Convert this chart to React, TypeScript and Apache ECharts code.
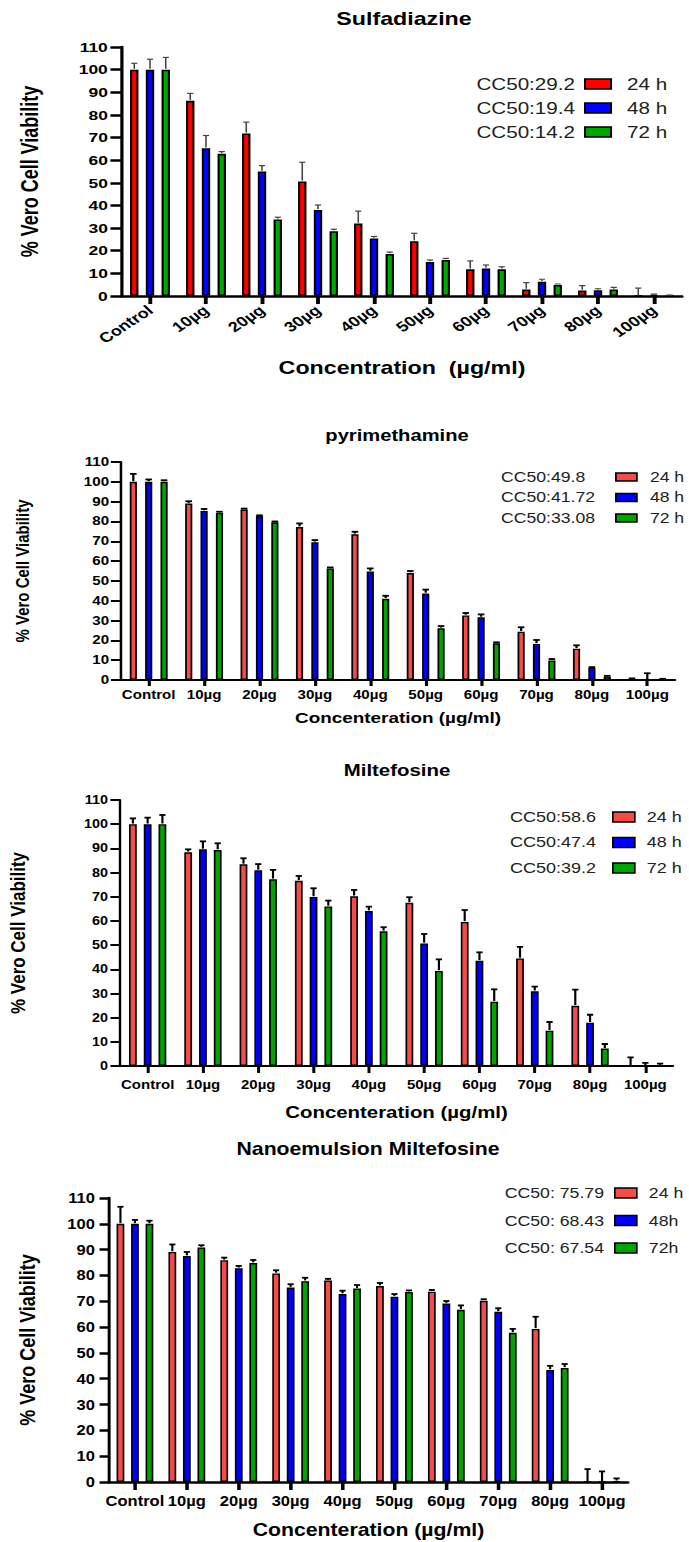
import React, { useEffect, useRef } from "react";
import * as echarts from "echarts";

// ---------- data ----------
const categories = ["Control", "10µg", "20µg", "30µg", "40µg", "50µg", "60µg", "70µg", "80µg", "100µg"];
const timeNames = ["24 h", "48 h", "72 h"];
const timeNamesNano = ["24 h", "48h", "72h"];

// Sulfadiazine
const sulfa24 = [100, 86.2, 71.8, 50.6, 32, 24.2, 11.8, 2.9, 2.4, 0];
const sulfa48 = [100, 65.3, 55, 38, 25.4, 15, 12.1, 6.3, 2.5, 0.5];
const sulfa72 = [100, 62.8, 33.8, 28.6, 18.6, 15.9, 11.8, 4.9, 2.9, 0.2];
const sulfa24Err = [2.8, 3.3, 5, 8.5, 5.5, 3.5, 3.7, 3, 2.2, 3.5];
const sulfa48Err = [4.6, 5.6, 2.6, 2.2, 0.9, 0.9, 1.6, 1.1, 0.7, 0.3];
const sulfa72Err = [5.4, 1, 1, 0.9, 0.8, 0.7, 1.1, 0.4, 0.9, 0.2];
const sulfaCC50 = ["CC50:29.2", "CC50:19.4", "CC50:14.2"];

// Pyrimethamine
const pyr24 = [100, 89, 86, 77.2, 73.5, 54, 32.6, 24.4, 15.8, 0.5];
const pyr48 = [100, 85.3, 82.7, 69.5, 54.8, 43.7, 31.6, 18.2, 6.1, 0];
const pyr72 = [100, 84.3, 79.6, 56.3, 41, 26.1, 18.5, 9.8, 1.7, 0.3];
const pyr24Err = [4, 1.2, 0.5, 1.8, 1.3, 1, 1.2, 2.2, 1.7, 0.3];
const pyr48Err = [1.2, 1, 0.4, 1.1, 1.5, 1.9, 1.5, 2, 0.4, 3.4];
const pyr72Err = [0.8, 0.6, 0.4, 0.5, 1.5, 1.1, 0.5, 0.8, 0.4, 0.3];
const pyrCC50 = ["CC50:49.8", "CC50:41.72", "CC50:33.08"];

// Miltefosine
const milt24 = [100, 88.4, 83.4, 76.6, 70.2, 67.5, 59.6, 44.5, 24.9, 0];
const milt48 = [100, 89.6, 80.9, 69.9, 64.1, 50.7, 43.5, 30.9, 17.9, 0];
const milt72 = [100, 89.3, 77.2, 66, 55.7, 39.3, 26.6, 14.6, 7.2, 0.2];
const milt24Err = [2.4, 1.2, 2.5, 2, 2.6, 2.3, 4.9, 4.8, 6.7, 3.6];
const milt48Err = [2.7, 3.3, 2.6, 3.6, 1.8, 3.9, 3.5, 1.9, 3.3, 1.3];
const milt72Err = [3.8, 2.8, 3.9, 2.4, 1.7, 4.8, 5.1, 3.6, 1.9, 0.8];
const miltCC50 = ["CC50:58.6", "CC50:47.4", "CC50:39.2"];

// Nanoemulsion Miltefosine
const nano24 = [100, 89.1, 85.9, 80.8, 78, 75.9, 73.7, 70.2, 59.3, 0];
const nano48 = [100, 87.5, 82.8, 75.3, 72.8, 71.8, 69.1, 65.9, 43.4, 0];
const nano72 = [100, 90.8, 84.8, 77.8, 74.9, 73.6, 66.7, 57.8, 44.2, 0.3];
const nano24Err = [6.6, 2.9, 1, 1.2, 0.7, 1.2, 0.7, 0.6, 4.7, 5];
const nano48Err = [1.5, 1.6, 0.9, 1.3, 1.3, 1, 1, 1.4, 1.6, 4.1];
const nano72Err = [1.2, 0.9, 1.2, 1.3, 1.4, 0.6, 1.7, 1.5, 1.5, 1.1];
const nanoCC50 = ["CC50: 75.79", "CC50: 68.43", "CC50: 67.54"];

// ---------- layout / style ----------
const FONT = "'Liberation Sans', Arial, Helvetica, sans-serif";
const COLORS_1 = ["#FF0000", "#0000FF", "#00A600"];
const COLORS_2 = ["#F44B4B", "#0000FF", "#00A300"];

type Layout = any;

const panels: { title: string; xName: string; names: string[]; values: number[][]; errs: number[][]; cc50: string[]; colors: string[]; L: Layout }[] = [
  {
    title: "Sulfadiazine",
    xName: "Concentration  (µg/ml)",
    names: timeNames,
    values: [sulfa24, sulfa48, sulfa72],
    errs: [sulfa24Err, sulfa48Err, sulfa72Err],
    cc50: sulfaCC50,
    colors: COLORS_1,
    L: {
      top: 0, height: 390, s: 1.29, gridLeft: 122, gridRight: 682, yTop: 47, yBottom: 296,
      titleX: 404, titleY: 18, titleSize: 18,
      yLabelSize: 13.5, yLabelMargin: 11, xLabelSize: 14, xRot: 40, xLabelMargin: 12,
      xNameSize: 18, xNameY: 367, yNameSize: 18, yNameX: 30,
      axisW: 2.5, yTickLen: 9, xTickLen: 8,
      barW: 6.5, gapPx: 5.7, borderW: 1.6, errColor: "#444", errW: 1.2, capHalf: 2.4,
      lg: { rectX: 584, rectW: 26, rectH: 10, row0: 84, rowStep: 24, textGap: 16, fontSize: 16, ccX: 575, ccAlign: "right" },
    },
  },
  {
    title: "pyrimethamine",
    xName: "Concenteration (µg/ml)",
    names: timeNames,
    values: [pyr24, pyr48, pyr72],
    errs: [pyr24Err, pyr48Err, pyr72Err],
    cc50: pyrCC50,
    colors: COLORS_2,
    L: {
      top: 390, height: 350, s: 1.26, gridLeft: 121, gridRight: 675, yTop: 462, yBottom: 680,
      titleX: 397, titleY: 436, titleSize: 16,
      yLabelSize: 12, yLabelMargin: 9.5, xLabelSize: 12, xRot: 0, xLabelMargin: 9,
      xNameSize: 15, xNameY: 718, yNameSize: 15, yNameX: 23,
      axisW: 2, yTickLen: 8, xTickLen: 6,
      barW: 5.7, gapPx: 6.5, borderW: 1.4, errColor: "#000", errW: 1.8, capHalf: 2.6,
      lg: { rectX: 615, rectW: 21, rectH: 8, row0: 477, rowStep: 20.5, textGap: 13, fontSize: 14, ccX: 501, ccAlign: "left" },
    },
  },
  {
    title: "Miltefosine",
    xName: "Concenteration (µg/ml)",
    names: timeNames,
    values: [milt24, milt48, milt72],
    errs: [milt24Err, milt48Err, milt72Err],
    cc50: miltCC50,
    colors: COLORS_2,
    L: {
      top: 740, height: 385, s: 1.2, gridLeft: 120, gridRight: 673, yTop: 800, yBottom: 1066,
      titleX: 397, titleY: 770, titleSize: 17,
      yLabelSize: 12, yLabelMargin: 10, xLabelSize: 12.5, xRot: 0, xLabelMargin: 12,
      xNameSize: 17, xNameY: 1112, yNameSize: 17, yNameX: 18,
      axisW: 2, yTickLen: 8, xTickLen: 7,
      barW: 6.5, gapPx: 5.8, borderW: 1.4, errColor: "#000", errW: 1.8, capHalf: 2.6,
      lg: { rectX: 612, rectW: 22, rectH: 10, row0: 817, rowStep: 25.5, textGap: 12, fontSize: 15, ccX: 510, ccAlign: "left" },
    },
  },
  {
    title: "Nanoemulsion Miltefosine",
    xName: "Concenteration (µg/ml)",
    names: timeNamesNano,
    values: [nano24, nano48, nano72],
    errs: [nano24Err, nano48Err, nano72Err],
    cc50: nanoCC50,
    colors: COLORS_2,
    L: {
      top: 1125, height: 417, s: 1.18, gridLeft: 109, gridRight: 628, yTop: 1198, yBottom: 1482,
      titleX: 368, titleY: 1149, titleSize: 18,
      yLabelSize: 14, yLabelMargin: 12, xLabelSize: 14, xRot: 0, xLabelMargin: 12,
      xNameSize: 18, xNameY: 1530, yNameSize: 18, yNameX: 27,
      axisW: 2.5, yTickLen: 8, xTickLen: 8,
      barW: 6.6, gapPx: 5.7, borderW: 1.4, errColor: "#000", errW: 1.8, capHalf: 2.6,
      lg: { rectX: 614, rectW: 22, rectH: 10, row0: 1193, rowStep: 27.5, textGap: 12, fontSize: 15, ccX: 604, ccAlign: "right" },
    },
  },
];

function buildOption(p: (typeof panels)[number]) {
  const L = p.L;
  const s = L.s;
  const gridLeft = L.gridLeft / s;
  const gridWidth = (L.gridRight - L.gridLeft) / s;
  const gridTop = L.yTop - L.top;
  const gridHeight = L.yBottom - L.yTop;
  const pitch = L.barW + L.gapPx;
  const lg = L.lg;
  const lh = lg.fontSize + 2;

  const series: any[] = [];
  p.values.forEach((vals, i) => {
    series.push({
      type: "bar",
      name: p.names[i],
      data: vals,
      barWidth: L.barW,
      barGap: `${(L.gapPx / L.barW) * 100}%`,
      itemStyle: { color: p.colors[i], borderColor: "#000", borderWidth: L.borderW },
      z: 2,
    });
  });
  p.values.forEach((vals, i) => {
    const offset = (i - 1) * pitch;
    series.push({
      type: "custom",
      name: "err" + i,
      silent: true,
      z: 3,
      encode: { x: 0, y: 1 },
      data: vals.map((v, j) => [j, v, p.errs[i][j]]),
      renderItem: (params: any, api: any) => {
        const j = api.value(0);
        const v = api.value(1);
        const e = api.value(2);
        const base = api.coord([j, v]);
        const top = api.coord([j, v + e]);
        const x = base[0] + offset;
        const style = { stroke: L.errColor, lineWidth: L.errW };
        return {
          type: "group",
          children: [
            { type: "line", shape: { x1: x, y1: base[1] - L.borderW / 2, x2: x, y2: top[1] }, style },
            { type: "line", shape: { x1: x - L.capHalf, y1: top[1], x2: x + L.capHalf, y2: top[1] }, style },
          ],
        };
      },
    });
  });

  const boldText = (size: number) => ({ fontSize: size, fontWeight: "bold", color: "#000", fontFamily: FONT });

  return {
    animation: false,
    backgroundColor: "#ffffff",
    title: {
      text: p.title,
      left: L.titleX / s,
      top: L.titleY - L.top - L.titleSize / 2,
      textAlign: "center",
      padding: 0,
      textStyle: boldText(L.titleSize),
    },
    grid: { left: gridLeft, top: gridTop, width: gridWidth, height: gridHeight, outerBoundsMode: "none" },
    xAxis: {
      type: "category",
      data: categories,
      boundaryGap: true,
      axisLine: { show: true, lineStyle: { color: "#000", width: L.axisW } },
      axisTick: { show: true, alignWithLabel: true, length: L.xTickLen, lineStyle: { color: "#000", width: L.axisW + 0.5 } },
      axisLabel: { interval: 0, rotate: L.xRot, margin: L.xLabelMargin, ...boldText(L.xLabelSize) },
      splitLine: { show: false },
      name: p.xName,
      nameLocation: "middle",
      nameGap: L.xNameY - L.yBottom - L.xNameSize / 2,
      nameTextStyle: boldText(L.xNameSize),
    },
    yAxis: {
      type: "value",
      min: 0,
      max: 110,
      interval: 10,
      axisLine: { show: true, lineStyle: { color: "#000", width: L.axisW } },
      axisTick: { show: true, length: L.yTickLen, lineStyle: { color: "#000", width: L.axisW } },
      splitLine: { show: false },
      axisLabel: { margin: L.yLabelMargin, ...boldText(L.yLabelSize) },
      name: "% Vero Cell Viability",
      nameLocation: "middle",
      nameRotate: 90,
      nameGap: (L.gridLeft - L.yNameX) / s - L.yNameSize / 2,
      nameTextStyle: boldText(L.yNameSize),
    },
    legend: {
      orient: "vertical",
      left: lg.rectX / s,
      top: lg.row0 - L.top - lh / 2,
      itemWidth: lg.rectW / s,
      itemHeight: lg.rectH,
      itemGap: lg.rowStep - lh,
      icon: "rect",
      padding: 0,
      selectedMode: false,
      data: p.names,
      itemStyle: { borderColor: "#000", borderWidth: L.borderW },
      textStyle: {
        fontSize: lg.fontSize,
        color: "#222",
        fontFamily: FONT,
        lineHeight: lh,
        padding: [0, 0, 0, Math.max(0, lg.textGap / s - 5)],
      },
    },
    graphic: p.cc50.map((t, i) => ({
      type: "text",
      silent: true,
      x: lg.ccX / s,
      y: lg.row0 + i * lg.rowStep - L.top,
      style: {
        text: t,
        fontSize: lg.fontSize,
        fontFamily: FONT,
        fill: "#222",
        align: lg.ccAlign,
        textAlign: lg.ccAlign,
        verticalAlign: "middle",
        textVerticalAlign: "middle",
      },
    })),
    series,
  };
}

function Panel({ p }: { p: (typeof panels)[number] }) {
  const ref = useRef<HTMLDivElement>(null);
  useEffect(() => {
    if (!ref.current) return;
    const chart = echarts.init(ref.current, null, { renderer: "svg" });
    chart.setOption(buildOption(p) as any);
    return () => chart.dispose();
  }, [p]);
  const s = p.L.s;
  const innerW = 689 / s;
  return (
    <div style={{ position: "absolute", left: 0, top: p.L.top, width: 689, height: p.L.height, overflow: "hidden" }}>
      <div style={{ width: innerW, height: p.L.height, transform: `scaleX(${s})`, transformOrigin: "0 0" }}>
        <div ref={ref} style={{ width: innerW, height: p.L.height }} />
      </div>
    </div>
  );
}

export default function App() {
  return (
    <div style={{ position: "absolute", left: 0, top: 0, width: 689, height: 1542, background: "#fff", overflow: "hidden" }}>
      {panels.map((p, i) => (
        <Panel key={i} p={p} />
      ))}
    </div>
  );
}
